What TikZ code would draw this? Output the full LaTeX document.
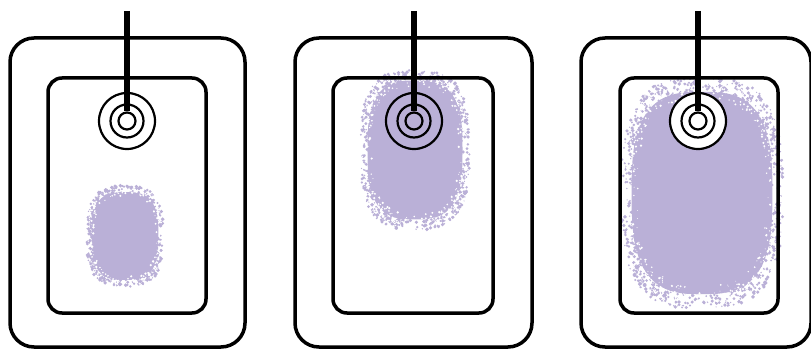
\documentclass[tikz,border=0pt]{standalone}
\usetikzlibrary{positioning}
\definecolor{dyeviolet}{RGB}{186,176,215}

% fuzzy dye spot: centre x, centre y, half width, half height, seed
\newcommand{\dyeblob}[5]{%
  \pgfmathsetseed{#5}%
  \fill[dyeviolet] plot[domain=0:356, samples=90]
    ({#1+0.88*#3*cos(\x)/pow(abs(cos(\x))+0.0001,0.32)},
     {#2+0.88*#4*sin(\x)/pow(abs(sin(\x))+0.0001,0.32)}) -- cycle;
  \pgfmathtruncatemacro{\bN}{5*(#3+#4)}%
  \foreach \k in {1,...,\bN}{
    \pgfmathsetmacro{\bT}{360*rnd}
    \pgfmathsetmacro{\bR}{0.82+0.19*rnd}
    \pgfmathsetmacro{\bC}{cos(\bT)/pow(abs(cos(\bT))+0.0001,0.32)}
    \pgfmathsetmacro{\bS}{sin(\bT)/pow(abs(sin(\bT))+0.0001,0.32)}
    \fill[dyeviolet] ({#1+\bR*#3*\bC},{#2+\bR*#4*\bS}) circle ({0.6+1.4*rnd});
  }
  \pgfmathtruncatemacro{\bM}{2*(#3+#4)}%
  \foreach \k in {1,...,\bM}{
    \pgfmathsetmacro{\bT}{360*rnd}
    \pgfmathsetmacro{\bR}{0.80+0.18*rnd}
    \pgfmathsetmacro{\bC}{cos(\bT)/pow(abs(cos(\bT))+0.0001,0.32)}
    \pgfmathsetmacro{\bS}{sin(\bT)/pow(abs(sin(\bT))+0.0001,0.32)}
    \fill[white] ({#1+\bR*#3*\bC},{#2+\bR*#4*\bS}) circle ({0.4+0.9*rnd});
  }
}

\begin{document}
\begin{tikzpicture}[x=1pt, y=-1pt,
  housing/.style={draw=black, line width=3.5pt, rounded corners=24pt},
  cell/.style={draw=black, line width=3.5pt, rounded corners=14pt},
  ring/.style={circle, draw=black, line width=2.2pt, inner sep=0pt},
  lead/.style={draw=black, line width=6pt}
]
  \useasboundingbox (0,0) rectangle (811,350);

  % dye spread
  \dyeblob{125}{236}{38}{50}{3}
  \dyeblob{415}{150}{54}{79}{5}
  \dyeblob{702}{193}{80}{115}{11}

  % housings and cells
  \draw[housing] (10,38) rectangle (245,347);
  \draw[housing] (295,38) rectangle (532,347);
  \draw[housing] (581,38) rectangle (811,347);
  \draw[cell] (48,78) rectangle (206,313);
  \draw[cell] (333,78) rectangle (493,313);
  \draw[cell] (620,78) rectangle (778,313);

  % electrode A
  \node[ring, minimum size=56pt] (outerA) at (127,121) {};
  \node[ring, minimum size=33pt] (midA) at (127,121) {};
  \node[ring, minimum size=17pt] (tipA) at (127,121) {};
  \coordinate (topA) at (127,11);
  \draw[lead] (topA) -- (tipA.north);

  % electrode B
  \node[ring, minimum size=56pt] (outerB) at (414,121) {};
  \node[ring, minimum size=33pt] (midB) at (414,121) {};
  \node[ring, minimum size=17pt] (tipB) at (414,121) {};
  \coordinate (topB) at (414,11);
  \draw[lead] (topB) -- (tipB.north);

  % electrode C
  \node[ring, fill=white, minimum size=56pt] (outerC) at (698,121) {};
  \node[ring, minimum size=33pt] (midC) at (698,121) {};
  \node[ring, minimum size=17pt] (tipC) at (698,121) {};
  \coordinate (topC) at (698,11);
  \draw[lead] (topC) -- (tipC.north);
\end{tikzpicture}
\end{document}
